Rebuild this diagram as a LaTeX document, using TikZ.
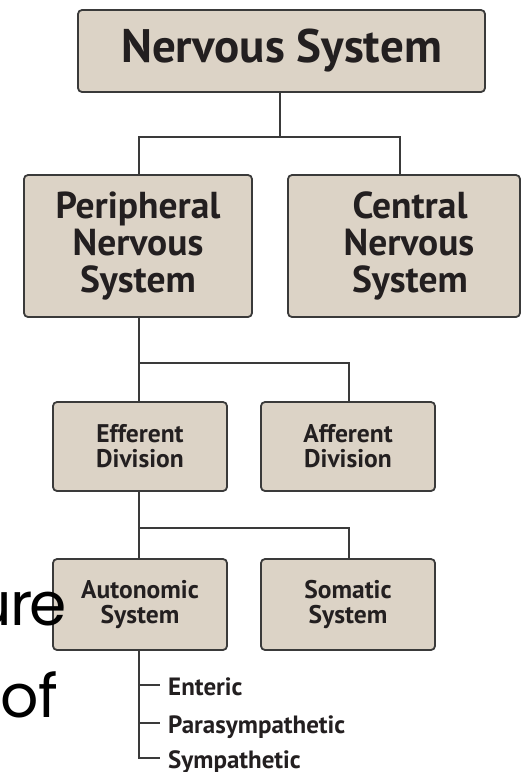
\documentclass[tikz,border=0pt]{standalone}
\usepackage{fontspec}
\setmainfont{PT Sans}
\newfontfamily\bgfont{Poppins}
\usetikzlibrary{positioning,calc}
\definecolor{boxfill}{HTML}{DCD3C6}
\definecolor{boxline}{HTML}{3A3A3A}
\definecolor{ink}{HTML}{231F20}
\tikzset{
  box/.style={draw=boxline, fill=boxfill, line width=1.8pt, rounded corners=4pt, align=center, text=ink, inner sep=0pt, font=\bfseries},
  bigtext/.style={font=\fontsize{47}{40}\selectfont\bfseries},
  midtext/.style={font=\fontsize{37.5}{37}\selectfont\bfseries},
  smalltext/.style={font=\fontsize{25.5}{25}\selectfont\bfseries},
  wire/.style={draw=boxline, line width=1.6pt},
  leaf/.style={anchor=base west, inner sep=0pt, text=ink, font=\fontsize{25}{25}\selectfont\bfseries},
  bgtext/.style={inner sep=0pt, text=black, font=\fontsize{60}{60}\selectfont\bgfont}
}
\begin{document}
\begin{tikzpicture}[x=1pt,y=-1pt]
\useasboundingbox (0,0) rectangle (528,772);
\node[box, bigtext, minimum width=407pt, minimum height=82pt] (ns) at (281.5,51) {Nervous System};
\node[box, midtext, minimum width=228pt, minimum height=142pt] (pns) at (138,246) {Peripheral\\Nervous\\System};
\node[box, midtext, minimum width=232pt, minimum height=142pt] (cns) at (404,246) {\hspace{12pt}Central\\\hspace{10pt}Nervous\\\hspace{12pt}System};
\node[box, smalltext, minimum width=174pt, minimum height=89pt] (eff) at (140,446.5) {Efferent\\Division};
\node[box, smalltext, minimum width=174pt, minimum height=89pt] (aff) at (348,446.5) {Afferent\\Division};
\node[box, smalltext, minimum width=174pt, minimum height=91pt] (aut) at (140,604.5) {Autonomic\\System};
\node[box, smalltext, minimum width=174pt, minimum height=91pt] (som) at (348,604.5) {Somatic\\System};
% connectors
\coordinate (j1) at (280,137);
\draw[wire] (280,92) coordinate (ns1) -- (j1);
\draw[wire] (139,175) coordinate (p1) |- (j1) -| (400,175) coordinate (c1);
\coordinate (j2) at (139,363);
\draw[wire] (139,317) coordinate (p2) -- (139,402) coordinate (e1);
\draw[wire] (j2) -| (349,402) coordinate (a1);
\coordinate (j3) at (139,528);
\draw[wire] (139,491) coordinate (e2) -- (139,559) coordinate (au1);
\draw[wire] (j3) -| (349,559) coordinate (s1);
\coordinate (t1) at (160,685);
\coordinate (t2) at (160,723);
\coordinate (t3) at (160,758);
\draw[wire] (139,650) coordinate (au2) |- (t3);
\draw[wire] (139,685) -- (t1);
\draw[wire] (139,723) -- (t2);
\node[leaf] (l1) at ($(t1)+(8,10)$) {Enteric};
\node[leaf] (l2) at ($(t2)+(8,10)$) {Parasympathetic};
\node[leaf] (l3) at ($(t3)+(8,10)$) {Sympathetic};
% background text
\node[bgtext, anchor=base east] (ure) at (67,625) {u\kern-2pt r\kern-3pt e};
\node[bgtext, anchor=base west] (of) at (0,717) {of};
\end{tikzpicture}
\end{document}
